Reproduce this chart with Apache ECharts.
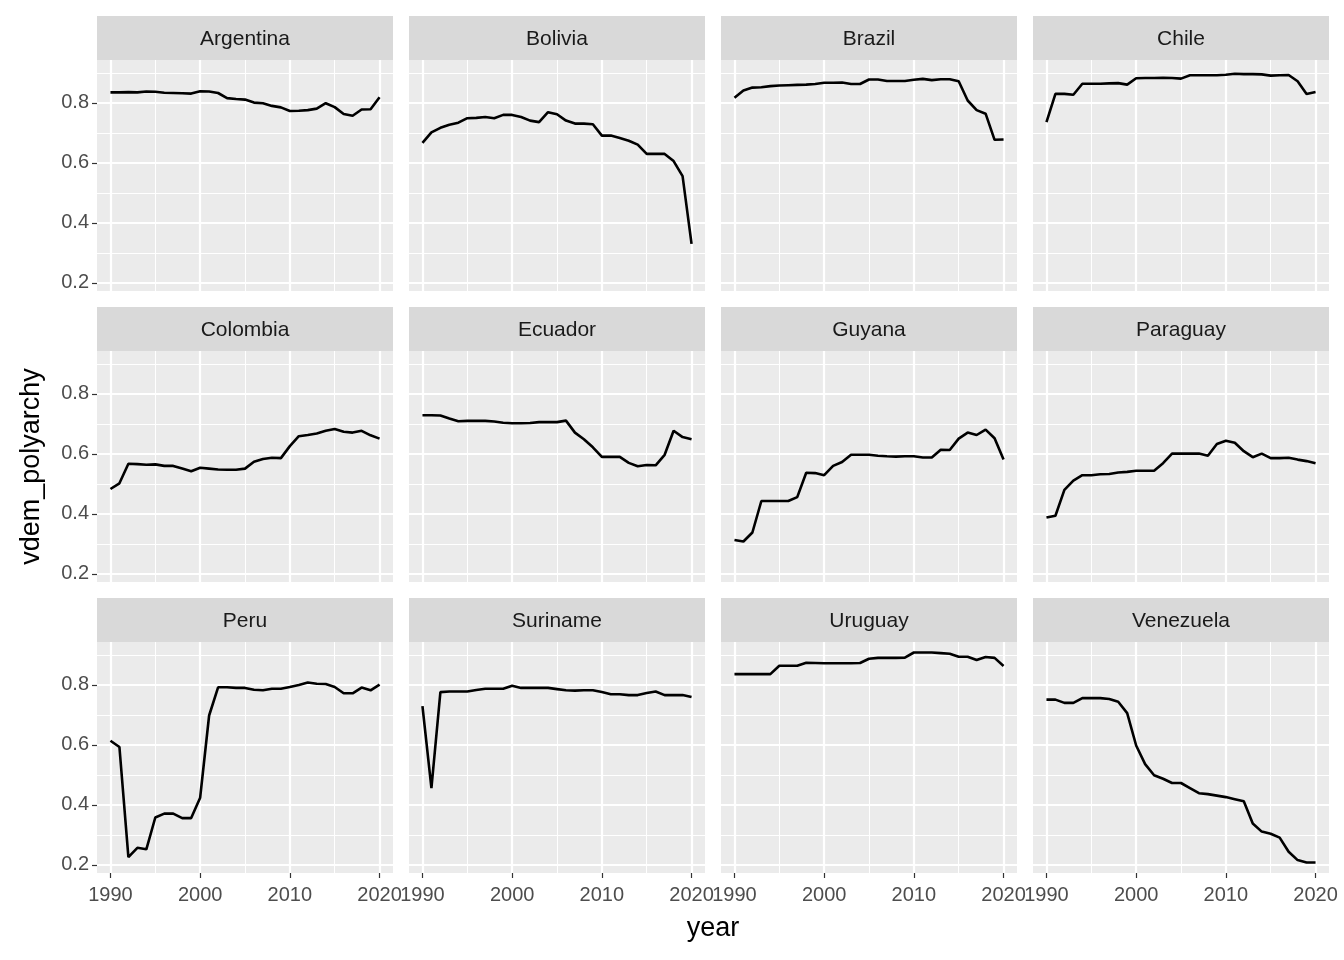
<!DOCTYPE html>
<html><head><meta charset="utf-8">
<script src="https://cdn.jsdelivr.net/npm/echarts@6/dist/echarts.min.js"></script>
<style>html,body{margin:0;padding:0;background:#fff}#c{width:1344px;height:960px}</style>
</head><body><div id="c"></div>
<script>
const years = [1990,1991,1992,1993,1994,1995,1996,1997,1998,1999,2000,2001,2002,2003,2004,2005,2006,2007,2008,2009,2010,2011,2012,2013,2014,2015,2016,2017,2018,2019,2020];
const countries = ["Argentina","Bolivia","Brazil","Chile","Colombia","Ecuador","Guyana","Paraguay","Peru","Suriname","Uruguay","Venezuela"];
const argentina = [0.835,0.835,0.836,0.835,0.838,0.837,0.834,0.833,0.832,0.831,0.839,0.838,0.833,0.816,0.813,0.811,0.801,0.799,0.790,0.785,0.773,0.774,0.776,0.781,0.799,0.786,0.763,0.757,0.778,0.779,0.819];
const bolivia = [0.667,0.702,0.717,0.727,0.734,0.749,0.750,0.753,0.749,0.760,0.760,0.753,0.741,0.736,0.769,0.762,0.741,0.731,0.731,0.729,0.691,0.691,0.683,0.674,0.661,0.630,0.630,0.630,0.606,0.556,0.330];
const brazil = [0.817,0.841,0.851,0.852,0.856,0.858,0.859,0.860,0.861,0.863,0.867,0.867,0.868,0.863,0.863,0.878,0.878,0.873,0.873,0.873,0.877,0.880,0.876,0.879,0.879,0.872,0.808,0.776,0.764,0.677,0.678];
const chile = [0.736,0.830,0.830,0.827,0.864,0.864,0.864,0.865,0.866,0.861,0.882,0.883,0.883,0.884,0.883,0.881,0.892,0.892,0.892,0.892,0.894,0.897,0.896,0.896,0.895,0.891,0.892,0.893,0.872,0.830,0.836];
const colombia = [0.483,0.502,0.567,0.566,0.564,0.565,0.560,0.560,0.551,0.542,0.554,0.551,0.548,0.547,0.547,0.551,0.574,0.583,0.587,0.586,0.626,0.659,0.663,0.668,0.677,0.683,0.674,0.671,0.677,0.662,0.651];
const ecuador = [0.729,0.729,0.728,0.718,0.709,0.710,0.710,0.710,0.708,0.704,0.702,0.702,0.703,0.706,0.706,0.706,0.711,0.671,0.649,0.622,0.590,0.590,0.590,0.570,0.559,0.563,0.562,0.597,0.677,0.656,0.649];
const guyana = [0.313,0.308,0.338,0.443,0.443,0.443,0.443,0.456,0.537,0.536,0.529,0.560,0.573,0.597,0.597,0.597,0.594,0.592,0.591,0.592,0.592,0.588,0.588,0.614,0.613,0.651,0.671,0.663,0.681,0.652,0.581];
const paraguay = [0.388,0.394,0.480,0.511,0.529,0.529,0.532,0.533,0.538,0.540,0.544,0.544,0.544,0.569,0.601,0.601,0.601,0.601,0.594,0.633,0.644,0.637,0.609,0.589,0.601,0.586,0.586,0.587,0.581,0.576,0.569];
const peru = [0.614,0.593,0.226,0.257,0.252,0.358,0.371,0.371,0.356,0.356,0.424,0.698,0.792,0.792,0.790,0.790,0.784,0.782,0.787,0.787,0.793,0.800,0.808,0.804,0.803,0.793,0.772,0.772,0.791,0.782,0.801];
const suriname = [0.729,0.456,0.776,0.778,0.778,0.778,0.783,0.787,0.787,0.787,0.797,0.790,0.790,0.790,0.790,0.786,0.782,0.781,0.782,0.782,0.776,0.769,0.769,0.766,0.766,0.773,0.778,0.766,0.766,0.766,0.760];
const uruguay = [0.836,0.836,0.836,0.836,0.836,0.864,0.864,0.864,0.874,0.873,0.872,0.872,0.872,0.872,0.873,0.887,0.890,0.890,0.890,0.891,0.908,0.908,0.908,0.906,0.904,0.894,0.894,0.883,0.893,0.890,0.863];
const venezuela = [0.751,0.751,0.740,0.740,0.756,0.756,0.756,0.753,0.744,0.706,0.598,0.536,0.499,0.487,0.473,0.473,0.456,0.439,0.436,0.431,0.426,0.419,0.412,0.338,0.311,0.304,0.291,0.244,0.216,0.208,0.208];
const values = [argentina,bolivia,brazil,chile,colombia,ecuador,guyana,paraguay,peru,suriname,uruguay,venezuela];
const xTicks = [1990,2000,2010,2020];
const xMinor = [1995,2005,2015];
const yTicks = [0.2,0.4,0.6,0.8];
const yMinor = [0.3,0.5,0.7,0.9];
const xTitle = "year";
const yTitle = "vdem_polyarchy";

// layout
const FONT = '"Liberation Sans", Arial, Helvetica, sans-serif';
const L0 = 97, CW = 296, CG = 16, T0 = 16, STRIP = 44, PH = 231, RG = 291;
const TICKFS = 20, STRIPFS = 21, TITLEFS = 27;

let allV = [].concat(...values);
const dMin = Math.min(...allV), dMax = Math.max(...allV);
const yMin = dMin - 0.05*(dMax-dMin), yMax = dMax + 0.05*(dMax-dMin);
const xMin = years[0] - 0.05*(years[years.length-1]-years[0]);
const xMax = years[years.length-1] + 0.05*(years[years.length-1]-years[0]);

const grids=[], xAxes=[], yAxes=[], series=[], graphics=[];
countries.forEach((name,i)=>{
  const col=i%4, row=Math.floor(i/4);
  const left=L0+col*(CW+CG), stripTop=T0+row*RG, top=stripTop+STRIP;
  grids.push({left:left, top:top, width:CW, height:PH, show:true, backgroundColor:'#EBEBEB', borderWidth:0, containLabel:false});
  const bottom = row===2, leftCol = col===0;
  xAxes.push({type:'value', gridIndex:i, min:xMin, max:xMax,
    axisLine:{show:false}, splitLine:{show:false},
    axisTick:{show:bottom, customValues:xTicks, length:5, lineStyle:{color:'#333333', width:1.2}},
    axisLabel:{show:bottom, customValues:xTicks, color:'#4D4D4D', fontSize:TICKFS, fontFamily:FONT, margin:12, formatter:v=>String(Math.round(v))}});
  yAxes.push({type:'value', gridIndex:i, min:yMin, max:yMax,
    axisLine:{show:false}, splitLine:{show:false},
    axisTick:{show:leftCol, customValues:yTicks, length:5, lineStyle:{color:'#333333', width:1.2}},
    axisLabel:{show:leftCol, customValues:yTicks, color:'#4D4D4D', fontSize:TICKFS, fontFamily:FONT, margin:8, formatter:v=>v.toFixed(1)}});
  const ml=[];
  yMinor.forEach(v=>ml.push({yAxis:v, lineStyle:{color:'#FFFFFF', width:1.1, type:'solid'}}));
  xMinor.forEach(v=>ml.push({xAxis:v, lineStyle:{color:'#FFFFFF', width:1.1, type:'solid'}}));
  yTicks.forEach(v=>ml.push({yAxis:v, lineStyle:{color:'#FFFFFF', width:2.2, type:'solid'}}));
  xTicks.forEach(v=>ml.push({xAxis:v, lineStyle:{color:'#FFFFFF', width:2.2, type:'solid'}}));
  series.push({type:'line', xAxisIndex:i, yAxisIndex:i, data:[], z:1, silent:true,
    markLine:{silent:true, symbol:['none','none'], label:{show:false}, animation:false, data:ml}});
  series.push({type:'line', name:name, xAxisIndex:i, yAxisIndex:i, z:5, showSymbol:false, silent:true, animation:false,
    lineStyle:{color:'#000000', width:2.6}, data:years.map((y,k)=>[y, values[i][k]])});
  graphics.push({type:'rect', shape:{x:left, y:stripTop, width:CW, height:STRIP}, style:{fill:'#D9D9D9'}, silent:true});
  graphics.push({type:'text', x:left+CW/2, y:stripTop+STRIP/2+1, style:{text:name, fill:'#1A1A1A', font:STRIPFS+'px '+FONT, textAlign:'center', textVerticalAlign:'middle'}, silent:true});
});
graphics.push({type:'text', x:L0+(4*CW+3*CG)/2, y:929, style:{text:xTitle, fill:'#000000', font:TITLEFS+'px '+FONT, textAlign:'center', textVerticalAlign:'middle'}});
graphics.push({type:'text', x:32, y:T0+STRIP+(2*RG+PH)/2, rotation:Math.PI/2, style:{text:yTitle, fill:'#000000', font:TITLEFS+'px '+FONT, textAlign:'center', textVerticalAlign:'middle'}});

const chart = echarts.init(document.getElementById('c'), null, {renderer:'canvas'});
chart.setOption({animation:false, backgroundColor:'#FFFFFF', grid:grids, xAxis:xAxes, yAxis:yAxes, series:series, graphic:graphics});
</script>
</body></html>
